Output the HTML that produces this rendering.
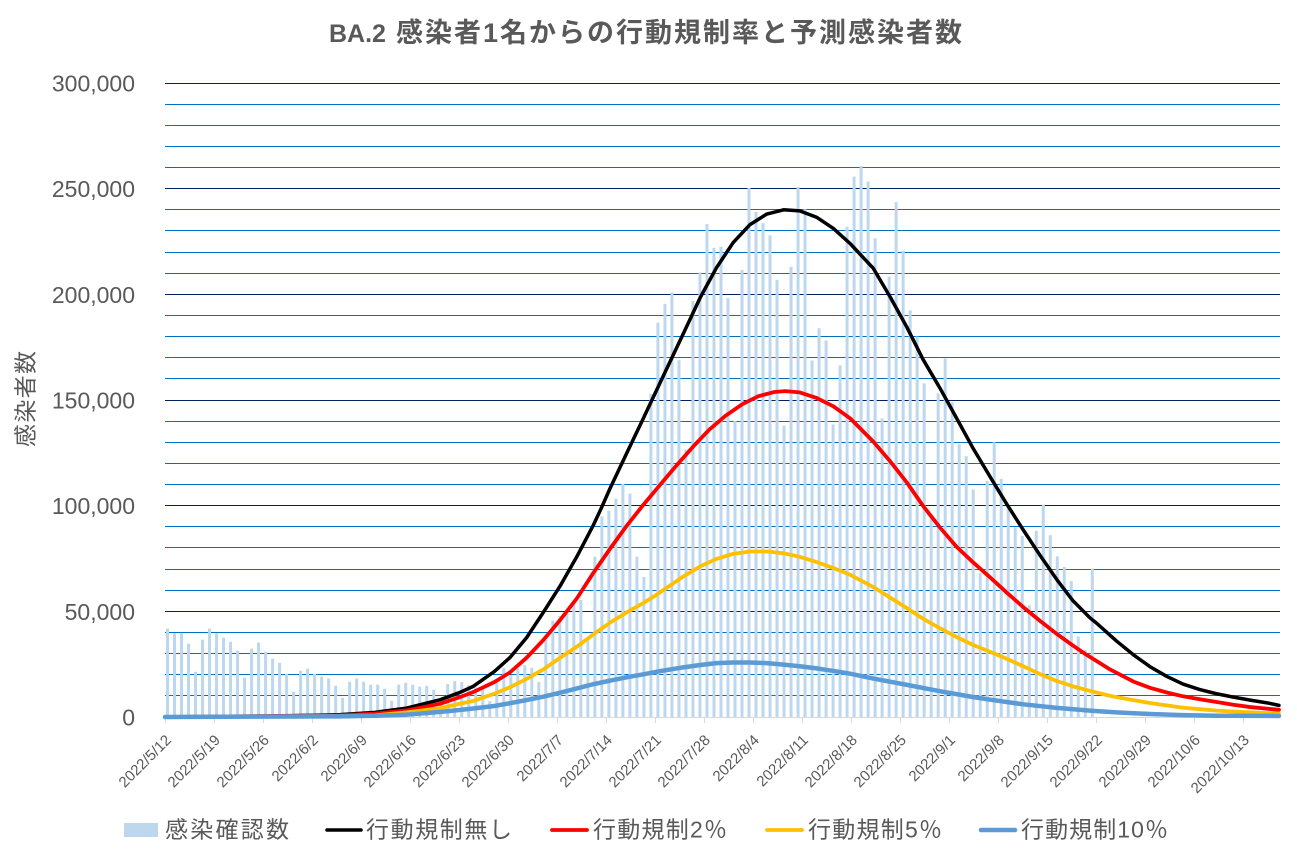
<!DOCTYPE html>
<html><head><meta charset="utf-8"><style>
html,body{margin:0;padding:0;background:#fff;}
svg{display:block;}
text{font-family:"Liberation Sans","Noto Sans CJK JP",sans-serif;fill:#595959;}
</style></head><body>
<svg width="1297" height="851" viewBox="0 0 1297 851" xmlns="http://www.w3.org/2000/svg">
<rect x="0" y="0" width="1297" height="851" fill="#fff"/>
<!-- title -->
<text x="329" y="42" font-size="25" font-weight="bold">BA.2</text>
<text x="396" y="42" font-size="27" font-weight="bold" textLength="566" lengthAdjust="spacing">感染者1名からの行動規制率と予測感染者数</text>
<!-- gridlines minor -->
<g stroke="#0070C0" stroke-width="1">
<line x1="165" x2="1280" y1="695.5" y2="695.5"/><line x1="165" x2="1280" y1="674.5" y2="674.5"/><line x1="165" x2="1280" y1="653.5" y2="653.5"/><line x1="165" x2="1280" y1="632.5" y2="632.5"/>
<line x1="165" x2="1280" y1="590.5" y2="590.5"/><line x1="165" x2="1280" y1="569.5" y2="569.5"/><line x1="165" x2="1280" y1="547.5" y2="547.5"/><line x1="165" x2="1280" y1="526.5" y2="526.5"/>
<line x1="165" x2="1280" y1="484.5" y2="484.5"/><line x1="165" x2="1280" y1="463.5" y2="463.5"/><line x1="165" x2="1280" y1="442.5" y2="442.5"/><line x1="165" x2="1280" y1="421.5" y2="421.5"/>
<line x1="165" x2="1280" y1="378.5" y2="378.5"/><line x1="165" x2="1280" y1="357.5" y2="357.5"/><line x1="165" x2="1280" y1="336.5" y2="336.5"/><line x1="165" x2="1280" y1="315.5" y2="315.5"/>
<line x1="165" x2="1280" y1="273.5" y2="273.5"/><line x1="165" x2="1280" y1="252.5" y2="252.5"/><line x1="165" x2="1280" y1="230.5" y2="230.5"/><line x1="165" x2="1280" y1="209.5" y2="209.5"/>
<line x1="165" x2="1280" y1="167.5" y2="167.5"/><line x1="165" x2="1280" y1="146.5" y2="146.5"/><line x1="165" x2="1280" y1="125.5" y2="125.5"/><line x1="165" x2="1280" y1="104.5" y2="104.5"/>
</g>
<g stroke="#002060" stroke-width="1">
<line x1="165" x2="1280" y1="611.5" y2="611.5"/><line x1="165" x2="1280" y1="505.5" y2="505.5"/><line x1="165" x2="1280" y1="400.5" y2="400.5"/><line x1="165" x2="1280" y1="294.5" y2="294.5"/><line x1="165" x2="1280" y1="188.5" y2="188.5"/><line x1="165" x2="1280" y1="83.5" y2="83.5"/>
</g>
<!-- axis -->
<line x1="165" x2="1280" y1="717.5" y2="717.5" stroke="#D9D9D9" stroke-width="1"/>
<g stroke="#D9D9D9" stroke-width="1">
<line x1="165.5" x2="165.5" y1="717" y2="723"/><line x1="214.5" x2="214.5" y1="717" y2="723"/><line x1="263.5" x2="263.5" y1="717" y2="723"/><line x1="312.5" x2="312.5" y1="717" y2="723"/><line x1="361.5" x2="361.5" y1="717" y2="723"/><line x1="410.5" x2="410.5" y1="717" y2="723"/><line x1="459.5" x2="459.5" y1="717" y2="723"/><line x1="508.5" x2="508.5" y1="717" y2="723"/><line x1="557.5" x2="557.5" y1="717" y2="723"/><line x1="606.5" x2="606.5" y1="717" y2="723"/><line x1="655.5" x2="655.5" y1="717" y2="723"/><line x1="704.5" x2="704.5" y1="717" y2="723"/><line x1="753.5" x2="753.5" y1="717" y2="723"/><line x1="802.5" x2="802.5" y1="717" y2="723"/><line x1="851.5" x2="851.5" y1="717" y2="723"/><line x1="900.5" x2="900.5" y1="717" y2="723"/><line x1="949.5" x2="949.5" y1="717" y2="723"/><line x1="998.5" x2="998.5" y1="717" y2="723"/><line x1="1047.5" x2="1047.5" y1="717" y2="723"/><line x1="1096.5" x2="1096.5" y1="717" y2="723"/><line x1="1145.5" x2="1145.5" y1="717" y2="723"/><line x1="1194.5" x2="1194.5" y1="717" y2="723"/><line x1="1243.5" x2="1243.5" y1="717" y2="723"/>
</g>
<!-- bars -->
<g fill="#BDD7EE" transform="translate(166,717) scale(7.006,-2.1133)">
<rect x="0" width=".43" height="41.8"/><rect x="1" width=".43" height="39.7"/><rect x="2" width=".43" height="39.7"/><rect x="3" width=".43" height="34.7"/><rect x="4" width=".43" height="21.4"/><rect x="5" width=".43" height="36.6"/><rect x="6" width=".43" height="41.8"/><rect x="7" width=".43" height="39.7"/><rect x="8" width=".43" height="37.5"/><rect x="9" width=".43" height="35.6"/>
<rect x="10" width=".43" height="31.4"/><rect x="11" width=".43" height="18.6"/><rect x="12" width=".43" height="32.3"/><rect x="13" width=".43" height="35.2"/><rect x="14" width=".43" height="30.9"/><rect x="15" width=".43" height="27.6"/><rect x="16" width=".43" height="25.7"/><rect x="17" width=".43" height="20.5"/><rect x="18" width=".43" height="12"/><rect x="19" width=".43" height="21.9"/>
<rect x="20" width=".43" height="22.9"/><rect x="21" width=".43" height="20.5"/><rect x="22" width=".43" height="19.1"/><rect x="23" width=".43" height="18.2"/><rect x="24" width=".43" height="14.8"/><rect x="25" width=".43" height="9.1"/><rect x="26" width=".43" height="16.7"/><rect x="27" width=".43" height="18.2"/><rect x="28" width=".43" height="16.7"/><rect x="29" width=".43" height="15.3"/>
<rect x="30" width=".43" height="15.3"/><rect x="31" width=".43" height="13.4"/><rect x="32" width=".43" height="7.7"/><rect x="33" width=".43" height="15.3"/><rect x="34" width=".43" height="16.2"/><rect x="35" width=".43" height="15.3"/><rect x="36" width=".43" height="14.3"/><rect x="37" width=".43" height="14.8"/><rect x="38" width=".43" height="12.9"/><rect x="39" width=".43" height="6.5"/>
<rect x="40" width=".43" height="15.6"/><rect x="41" width=".43" height="17"/><rect x="42" width=".43" height="16.6"/><rect x="43" width=".43" height="15"/><rect x="44" width=".43" height="14"/><rect x="45" width=".43" height="13"/><rect x="46" width=".43" height="7.5"/><rect x="47" width=".43" height="16.2"/><rect x="48" width=".43" height="23.3"/><rect x="49" width=".43" height="19.8"/>
<rect x="50" width=".43" height="22.8"/><rect x="51" width=".43" height="24.5"/><rect x="52" width=".43" height="23.3"/><rect x="53" width=".43" height="16.6"/><rect x="54" width=".43" height="36.4"/><rect x="55" width=".43" height="45.6"/><rect x="56" width=".43" height="47.8"/><rect x="57" width=".43" height="49.8"/><rect x="58" width=".43" height="54.9"/><rect x="59" width=".43" height="55.4"/>
<rect x="60" width=".43" height="36.9"/><rect x="61" width=".43" height="75.9"/><rect x="62" width=".43" height="94.9"/><rect x="63" width=".43" height="97.6"/><rect x="64" width=".43" height="103.3"/><rect x="65" width=".43" height="110.3"/><rect x="66" width=".43" height="105.7"/><rect x="67" width=".43" height="75.9"/><rect x="68" width=".43" height="66.3"/><rect x="69" width=".43" height="152.9"/>
<rect x="70" width=".43" height="186.6"/><rect x="71" width=".43" height="195.5"/><rect x="72" width=".43" height="200.9"/><rect x="73" width=".43" height="168.8"/><rect x="74" width=".43" height="126.6"/><rect x="75" width=".43" height="196.9"/><rect x="76" width=".43" height="210.4"/><rect x="77" width=".43" height="233.3"/><rect x="78" width=".43" height="222"/><rect x="79" width=".43" height="222.5"/>
<rect x="80" width=".43" height="198.2"/><rect x="81" width=".43" height="140.1"/><rect x="82" width=".43" height="211.5"/><rect x="83" width=".43" height="250.3"/><rect x="84" width=".43" height="239"/><rect x="85" width=".43" height="233.7"/><rect x="86" width=".43" height="227.9"/><rect x="87" width=".43" height="206.9"/><rect x="88" width=".43" height="137.9"/><rect x="89" width=".43" height="213"/>
<rect x="90" width=".43" height="250.8"/><rect x="91" width=".43" height="240.3"/><rect x="92" width=".43" height="168.7"/><rect x="93" width=".43" height="184"/><rect x="94" width=".43" height="178.2"/><rect x="95" width=".43" height="138.4"/><rect x="96" width=".43" height="166.4"/><rect x="97" width=".43" height="232"/><rect x="98" width=".43" height="255.7"/><rect x="99" width=".43" height="260.8"/>
<rect x="100" width=".43" height="253.4"/><rect x="101" width=".43" height="226.5"/><rect x="102" width=".43" height="141.3"/><rect x="103" width=".43" height="208.4"/><rect x="104" width=".43" height="243.6"/><rect x="105" width=".43" height="220.6"/><rect x="106" width=".43" height="192.4"/><rect x="107" width=".43" height="180"/><rect x="108" width=".43" height="157.9"/><rect x="109" width=".43" height="96"/>
<rect x="110" width=".43" height="153.1"/><rect x="111" width=".43" height="169.7"/><rect x="112" width=".43" height="148.9"/><rect x="113" width=".43" height="129.1"/><rect x="114" width=".43" height="123.4"/><rect x="115" width=".43" height="107.7"/><rect x="116" width=".43" height="68.1"/><rect x="117" width=".43" height="111.7"/><rect x="118" width=".43" height="130"/><rect x="119" width=".43" height="112.7"/>
<rect x="120" width=".43" height="100"/><rect x="121" width=".43" height="89.7"/><rect x="122" width=".43" height="85.7"/><rect x="123" width=".43" height="52.9"/><rect x="124" width=".43" height="88.1"/><rect x="125" width=".43" height="100.5"/><rect x="126" width=".43" height="86"/><rect x="127" width=".43" height="76"/><rect x="128" width=".43" height="71"/><rect x="129" width=".43" height="64.3"/>
<rect x="130" width=".43" height="38.1"/><rect x="131" width=".43" height="31.7"/><rect x="132" width=".43" height="70.2"/>
</g>
<!-- lines -->
<g transform="translate(165,717) scale(7.006,-2.1133)" fill="none" stroke-linejoin="round" stroke-linecap="round">
<polyline vector-effect="non-scaling-stroke" stroke="#000000" stroke-width="3.5" points="0,0 14,0.3 25,1.1 30,2.2 34.5,4.2 39.3,8.2 42,11.5 44,14.5 47,21.5 49.2,28 51.6,37.5 54,49.5 56.4,62 58.8,76 61.1,90.5 62.3,99 63.5,108 66,125.5 68.3,141.5 70,153.5 72,167.5 74,181.5 76.4,198.5 78.7,212.5 81.1,224.5 83.5,233 85.9,238 88.3,240 90.6,239.5 93,236.5 95.4,231.2 97.8,224 101.1,212.3 103.5,198.8 105.9,184.4 108.2,169.2 110.6,155.7 113,141.3 115.4,126.8 117.8,113.5 120.1,101 122.5,88.5 124.9,76.5 127.3,65 129.6,55 132,47 133,44.3 135.8,36 138.2,29.5 140.6,23.8 143,19.2 145.3,15.6 147.7,13 150.1,11 152.5,9.4 154.9,8 157.3,6.7 159,5.5"/>
<polyline vector-effect="non-scaling-stroke" stroke="#FF0000" stroke-width="3.8" points="0,0 25,0.8 30,1.6 34.5,3.1 39.3,6.3 42,9.3 44,11.8 47,16.5 49.2,21 51.6,28 54,36.4 56.4,45.9 58.8,56.2 61.1,68 63.5,79.5 65.9,90.5 68.3,100.5 70.7,110 73,119 75.4,128 77.7,136 80,142.5 82.4,148 84.7,151.8 87,153.8 88.5,154.2 90.6,153.6 93,151 95.4,147 97.8,141.3 101.1,130.3 103.5,121 105.9,110.9 108.2,99.9 110.6,89.7 113,80.5 115.4,73 117.8,66 120.1,59 122.5,52 124.9,45.5 127.3,39.3 129.6,33.8 131.5,29.5 134.9,22.5 138.2,16.8 140.6,13.8 143,11.6 145.3,9.8 147.7,8.4 150.1,7.1 152.5,5.8 154.9,4.7 159,3.4"/>
<polyline vector-effect="non-scaling-stroke" stroke="#FFC000" stroke-width="3.8" points="0,0 25,0.4 30,0.8 34.5,2.2 39.3,4.2 42,6.2 44,7.6 47,11 49.2,14 51.6,18 54,22.5 56.4,28 58.8,33.3 61.1,39 63.5,44.6 65.9,49.5 68.3,54 70,57.5 72,62 74,66.5 76.4,71.3 78.7,74.8 81.1,77.2 83.5,78.3 85.9,78.3 88.3,77.5 90.6,75.8 93,73.3 95.4,70.5 97.8,67.3 101.1,61.5 103.5,56.5 105.9,51.5 108.2,46.5 110.6,42 113,37.8 115.4,34 117.8,30.8 120.1,27.6 122.5,24 124.9,20.3 127.3,17 129.6,14.5 132,12.4 134.9,10 138.2,8 140.6,6.6 145.3,4.4 150.1,3 154.9,2.2 159,1.6"/>
<polyline vector-effect="non-scaling-stroke" stroke="#5B9BD5" stroke-width="4.5" points="0,0 25,0.3 30,0.6 34.5,1.1 39.3,2.4 42,3.3 44,4 47,5.2 49.2,6.5 51.6,8 54,9.6 56.4,11.5 58.8,13.5 61.1,15.5 63.5,17.2 65.9,18.8 68.3,20.2 70.7,21.7 74,23.5 76.4,24.6 78.7,25.5 81.1,25.8 83.5,25.8 85.9,25.5 88.3,24.8 90.6,24 93,23 95.4,21.8 97.8,20.5 101.1,18.2 105.9,15.2 110.6,12.2 115.4,9.4 117.8,8.2 122.5,6 127.3,4.3 132,3 135.8,2.2 140.6,1.4 145.3,0.9 150.1,0.6 159,0.5"/>
</g>
<!-- y labels -->
<g font-size="23" text-anchor="end">
<text x="135" y="91.5">300,000</text>
<text x="135" y="197.2">250,000</text>
<text x="135" y="302.8">200,000</text>
<text x="135" y="408.5">150,000</text>
<text x="135" y="514.2">100,000</text>
<text x="135" y="619.8">50,000</text>
<text x="135" y="725.5">0</text>
</g>
<text transform="translate(33.5,399) rotate(-90)" font-size="23" text-anchor="middle" textLength="96" lengthAdjust="spacing">感染者数</text>
<!-- x labels -->
<g font-size="15" text-anchor="end">
<text transform="translate(172,741) rotate(-45)">2022/5/12</text>
<text transform="translate(221,741) rotate(-45)">2022/5/19</text>
<text transform="translate(270,741) rotate(-45)">2022/5/26</text>
<text transform="translate(319,741) rotate(-45)">2022/6/2</text>
<text transform="translate(368,741) rotate(-45)">2022/6/9</text>
<text transform="translate(417,741) rotate(-45)">2022/6/16</text>
<text transform="translate(466,741) rotate(-45)">2022/6/23</text>
<text transform="translate(515,741) rotate(-45)">2022/6/30</text>
<text transform="translate(564,741) rotate(-45)">2022/7/7</text>
<text transform="translate(613,741) rotate(-45)">2022/7/14</text>
<text transform="translate(662,741) rotate(-45)">2022/7/21</text>
<text transform="translate(711,741) rotate(-45)">2022/7/28</text>
<text transform="translate(760,741) rotate(-45)">2022/8/4</text>
<text transform="translate(809,741) rotate(-45)">2022/8/11</text>
<text transform="translate(858,741) rotate(-45)">2022/8/18</text>
<text transform="translate(907,741) rotate(-45)">2022/8/25</text>
<text transform="translate(956,741) rotate(-45)">2022/9/1</text>
<text transform="translate(1005,741) rotate(-45)">2022/9/8</text>
<text transform="translate(1054,741) rotate(-45)">2022/9/15</text>
<text transform="translate(1103,741) rotate(-45)">2022/9/22</text>
<text transform="translate(1152,741) rotate(-45)">2022/9/29</text>
<text transform="translate(1201,741) rotate(-45)">2022/10/6</text>
<text transform="translate(1250,741) rotate(-45)">2022/10/13</text>
</g>
<!-- legend -->
<rect x="124" y="823" width="34" height="14" fill="#BDD7EE"/>
<text x="165" y="837.5" font-size="23" textLength="124" lengthAdjust="spacing">感染確認数</text>
<line x1="327" x2="361" y1="830" y2="830" stroke="#000" stroke-width="3.5" stroke-linecap="round"/>
<text x="366" y="837.5" font-size="23" textLength="146" lengthAdjust="spacing">行動規制無し</text>
<line x1="552" x2="587" y1="830" y2="830" stroke="#FF0000" stroke-width="3.8" stroke-linecap="round"/>
<text x="593" y="837.5" font-size="23" textLength="134" lengthAdjust="spacing">行動規制2％</text>
<line x1="767" x2="802" y1="830" y2="830" stroke="#FFC000" stroke-width="3.8" stroke-linecap="round"/>
<text x="808" y="837.5" font-size="23" textLength="134" lengthAdjust="spacing">行動規制5％</text>
<line x1="981" x2="1015" y1="830" y2="830" stroke="#5B9BD5" stroke-width="4.5" stroke-linecap="round"/>
<text x="1021" y="837.5" font-size="23" textLength="147" lengthAdjust="spacing">行動規制10％</text>
</svg>
</body></html>
